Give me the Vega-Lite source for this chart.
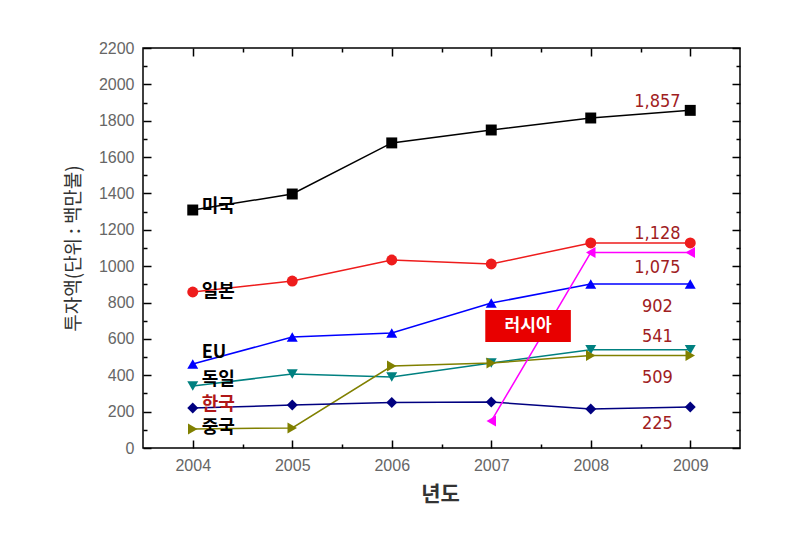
{
  "$schema": "https://vega.github.io/schema/vega-lite/v6.json",
  "width": 597,
  "height": 400,
  "autosize": "none",
  "padding": {"left": 143, "top": 48, "right": 51, "bottom": 91},
  "background": "white",
  "config": {
    "view": {"stroke": "#000000", "strokeWidth": 1.5},
    "axis": {"domain": false, "grid": false}
  },
  "datasets": {
    "series": [
      {"year": 2004, "country": "미국", "value": 1309},
      {"year": 2005, "country": "미국", "value": 1397},
      {"year": 2006, "country": "미국", "value": 1678},
      {"year": 2007, "country": "미국", "value": 1749},
      {"year": 2008, "country": "미국", "value": 1815},
      {"year": 2009, "country": "미국", "value": 1857},
      {"year": 2004, "country": "일본", "value": 858},
      {"year": 2005, "country": "일본", "value": 918},
      {"year": 2006, "country": "일본", "value": 1034},
      {"year": 2007, "country": "일본", "value": 1012},
      {"year": 2008, "country": "일본", "value": 1128},
      {"year": 2009, "country": "일본", "value": 1128},
      {"year": 2004, "country": "EU", "value": 462},
      {"year": 2005, "country": "EU", "value": 610},
      {"year": 2006, "country": "EU", "value": 632},
      {"year": 2007, "country": "EU", "value": 797},
      {"year": 2008, "country": "EU", "value": 902},
      {"year": 2009, "country": "EU", "value": 902},
      {"year": 2004, "country": "독일", "value": 341},
      {"year": 2005, "country": "독일", "value": 407},
      {"year": 2006, "country": "독일", "value": 390},
      {"year": 2007, "country": "독일", "value": 467},
      {"year": 2008, "country": "독일", "value": 541},
      {"year": 2009, "country": "독일", "value": 541},
      {"year": 2004, "country": "중국", "value": 105},
      {"year": 2005, "country": "중국", "value": 110},
      {"year": 2006, "country": "중국", "value": 451},
      {"year": 2007, "country": "중국", "value": 467},
      {"year": 2008, "country": "중국", "value": 509},
      {"year": 2009, "country": "중국", "value": 509},
      {"year": 2004, "country": "한국", "value": 220},
      {"year": 2005, "country": "한국", "value": 236},
      {"year": 2006, "country": "한국", "value": 250},
      {"year": 2007, "country": "한국", "value": 253},
      {"year": 2008, "country": "한국", "value": 214},
      {"year": 2009, "country": "한국", "value": 225},
      {"year": 2007, "country": "러시아", "value": 148},
      {"year": 2008, "country": "러시아", "value": 1075},
      {"year": 2009, "country": "러시아", "value": 1075}
    ],
    "names": [
      {"year": 2004.09, "value": 1325, "label": "미국"},
      {"year": 2004.09, "value": 858, "label": "일본"},
      {"year": 2004.09, "value": 522, "label": "EU"},
      {"year": 2004.09, "value": 374, "label": "독일"},
      {"year": 2004.09, "value": 238, "label": "한국"},
      {"year": 2004.09, "value": 108, "label": "중국"}
    ],
    "finals": [
      {"year": 2008.67, "value": 1903, "label": "1,857"},
      {"year": 2008.67, "value": 1177, "label": "1,128"},
      {"year": 2008.67, "value": 990, "label": "1,075"},
      {"year": 2008.67, "value": 775, "label": "902"},
      {"year": 2008.67, "value": 610, "label": "541"},
      {"year": 2008.67, "value": 385, "label": "509"},
      {"year": 2008.67, "value": 132, "label": "225"}
    ],
    "box": [
      {"x1": 2006.94, "x2": 2007.8, "y1": 583, "y2": 759, "xm": 2007.37, "ym": 671, "label": "러시아"}
    ]
  },
  "layer": [
    {
      "data": {"name": "series"},
      "mark": {"type": "line", "strokeWidth": 1.5},
      "encoding": {
        "x": {
          "field": "year", "type": "quantitative",
          "scale": {"domain": [2003.5, 2009.5], "nice": false, "zero": false},
          "axis": {
            "orient": "bottom",
            "values": [2004, 2004.5, 2005, 2005.5, 2006, 2006.5, 2007, 2007.5, 2008, 2008.5, 2009],
            "labelExpr": "datum.value % 1 === 0 ? format(datum.value, 'd') : ''",
            "tickSize": {"condition": {"test": "datum.value % 1 !== 0", "value": -4}, "value": -8},
            "tickColor": "#000000", "tickWidth": 1.5,
            "labelFont": "Liberation Sans", "labelFontSize": 16, "labelColor": "#666666",
            "labelPadding": 17,
            "title": "년도", "titleFont": "Noto Sans CJK KR", "titleFontSize": 21, "titleFontWeight": "bold",
            "titleColor": "#333333", "titleX": 297, "titleY": 46, "titleBaseline": "middle", "titleAlign": "center"
          }
        },
        "y": {
          "field": "value", "type": "quantitative",
          "scale": {"domain": [0, 2200], "nice": false},
          "axis": {
            "orient": "left",
            "values": [0, 100, 200, 300, 400, 500, 600, 700, 800, 900, 1000, 1100, 1200, 1300, 1400, 1500, 1600, 1700, 1800, 1900, 2000, 2100, 2200],
            "labelExpr": "datum.value % 200 === 0 ? format(datum.value, 'd') : ''",
            "tickSize": {"condition": {"test": "datum.value % 200 !== 0", "value": -4}, "value": -8},
            "tickColor": "#000000", "tickWidth": 1.5,
            "labelFont": "Liberation Sans", "labelFontSize": 16, "labelColor": "#666666",
            "labelPadding": 17,
            "title": "투자액(단위 : 백만불)", "titleFont": "Noto Sans CJK KR", "titleFontSize": 19, "titleFontWeight": "normal",
            "titleColor": "#333333", "titleX": -70, "titleY": 200, "titleAngle": -90, "titleBaseline": "middle", "titleAlign": "center"
          }
        },
        "color": {
          "field": "country", "type": "nominal",
          "scale": {
            "domain": ["미국", "일본", "EU", "독일", "중국", "한국", "러시아"],
            "range": ["#000000", "#ee1c1c", "#0000ff", "#008080", "#808000", "#000080", "#ff00ff"]
          },
          "legend": null
        }
      }
    },
    {
      "data": {"name": "series"},
      "mark": {"type": "point", "filled": true, "size": 120, "opacity": 1},
      "encoding": {
        "x": {
          "field": "year", "type": "quantitative",
          "scale": {"domain": [2003.5, 2009.5], "nice": false, "zero": false},
          "axis": {
            "orient": "top", "labels": false, "title": null,
            "values": [2004, 2004.5, 2005, 2005.5, 2006, 2006.5, 2007, 2007.5, 2008, 2008.5, 2009],
            "tickSize": {"condition": {"test": "datum.value % 1 !== 0", "value": -4}, "value": -8},
            "tickColor": "#000000", "tickWidth": 1.5
          }
        },
        "y": {
          "field": "value", "type": "quantitative",
          "scale": {"domain": [0, 2200], "nice": false},
          "axis": {
            "orient": "right", "labels": false, "title": null,
            "values": [0, 100, 200, 300, 400, 500, 600, 700, 800, 900, 1000, 1100, 1200, 1300, 1400, 1500, 1600, 1700, 1800, 1900, 2000, 2100, 2200],
            "tickSize": {"condition": {"test": "datum.value % 200 !== 0", "value": -4}, "value": -8},
            "tickColor": "#000000", "tickWidth": 1.5
          }
        },
        "color": {"field": "country", "type": "nominal", "legend": null},
        "shape": {
          "field": "country", "type": "nominal",
          "scale": {
            "domain": ["미국", "일본", "EU", "독일", "중국", "한국", "러시아"],
            "range": ["square", "circle", "triangle-up", "triangle-down", "triangle-right", "diamond", "triangle-left"]
          },
          "legend": null
        }
      }
    },
    {
      "data": {"name": "names"},
      "mark": {"type": "text", "align": "left", "baseline": "middle", "font": "Noto Sans CJK KR", "fontSize": 18, "fontWeight": "bold"},
      "encoding": {
        "x": {"field": "year", "type": "quantitative", "axis": null},
        "y": {"field": "value", "type": "quantitative", "axis": null},
        "text": {"field": "label"},
        "color": {"condition": {"test": "datum.label === '한국'", "value": "#b01818"}, "value": "#000000"}
      }
    },
    {
      "data": {"name": "finals"},
      "mark": {"type": "text", "align": "center", "baseline": "middle", "font": "DejaVu Sans Condensed, Liberation Sans, sans-serif", "fontSize": 18, "color": "#a0201e"},
      "encoding": {
        "x": {"field": "year", "type": "quantitative", "axis": null},
        "y": {"field": "value", "type": "quantitative", "axis": null},
        "text": {"field": "label"}
      }
    },
    {
      "data": {"name": "box"},
      "mark": {"type": "rect", "color": "#e80000"},
      "encoding": {
        "x": {"field": "x1", "type": "quantitative", "axis": null},
        "x2": {"field": "x2"},
        "y": {"field": "y1", "type": "quantitative", "axis": null},
        "y2": {"field": "y2"}
      }
    },
    {
      "data": {"name": "box"},
      "mark": {"type": "text", "align": "center", "baseline": "middle", "font": "Noto Sans CJK KR", "fontSize": 17, "fontWeight": "bold", "color": "#ffffff"},
      "encoding": {
        "x": {"field": "xm", "type": "quantitative", "axis": null},
        "y": {"field": "ym", "type": "quantitative", "axis": null},
        "text": {"field": "label"}
      }
    }
  ],
  "resolve": {"axis": {"x": "independent", "y": "independent"}}
}
